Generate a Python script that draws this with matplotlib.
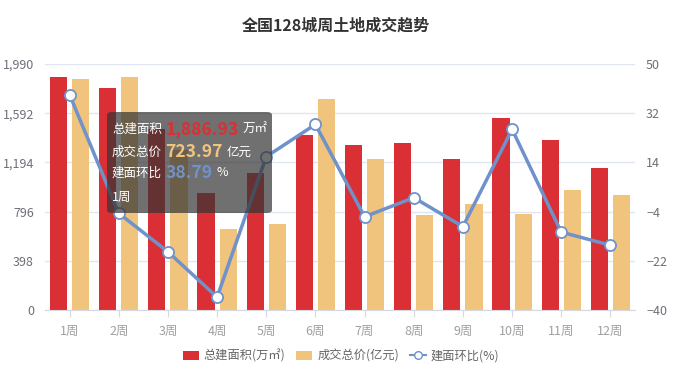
import matplotlib
matplotlib.use("Agg")
import matplotlib.pyplot as plt
from matplotlib.patches import Patch, FancyBboxPatch
from matplotlib.lines import Line2D
import numpy as np

plt.rcParams['font.family'] = ['Noto Sans CJK SC', 'DejaVu Sans']

weeks = ["1周", "2周", "3周", "4周", "5周", "6周", "7周", "8周", "9周", "10周", "11周", "12周"]
area = [1886.93, 1793, 1462, 949, 1106, 1416, 1335, 1353, 1224, 1551, 1373, 1151]
price = [1866, 1882, 1298, 653, 696, 1704, 1219, 771, 855, 777, 971, 928]
mom = [38.79, -4.6, -18.7, -35.3, 16.1, 27.9, -5.9, 1.1, -9.5, 26.1, -11.5, -16.3]
left_ticks = [0, 398, 796, 1194, 1592, 1990]
right_ticks = [-40, -22, -4, 14, 32, 50]

tip_week = "1周"
tip_area = 1886.93
tip_price = 723.97
tip_mom = 38.79

RED = "#DA3035"
YEL = "#F0C47D"
BLUE = "#6F92CB"
AXC = "#6E7079"
GRID = "#E0E6F1"

W, H = 682, 382
fig = plt.figure(figsize=(W / 100, H / 100), dpi=100)
ax = fig.add_axes([45 / W, 1 - 310 / H, 590 / W, 246 / H])
ax2 = ax.twinx()

x = np.arange(len(weeks))
bw = 0.35
ax.bar(x - 0.225, area, width=bw, color=RED, zorder=2)
ax.bar(x + 0.225, price, width=bw, color=YEL, zorder=2)
ax.set_xlim(-0.5, len(weeks) - 0.5)
ax.set_ylim(0, 1990)
ax.set_yticks(left_ticks)
ax.set_yticklabels([f"{v:,}" for v in left_ticks])
ax.set_xticks(x)
ax.set_xticklabels(weeks)
ax.grid(axis='y', color=GRID, linewidth=1, zorder=0)
ax.set_axisbelow(True)

ax2.plot(x, mom, color=BLUE, linewidth=2.5, marker='o', markersize=8,
         markerfacecolor='white', markeredgecolor=BLUE, markeredgewidth=1.3, zorder=5)
ax2.set_ylim(-40, 50)
ax2.set_yticks(right_ticks)

for a in (ax, ax2):
    for s in a.spines.values():
        s.set_visible(False)
ax.spines['bottom'].set_visible(True)
ax.spines['bottom'].set_color("#D5D8DF")
ax.tick_params(axis='x', length=5, color="#D5D8DF", labelsize=9, pad=6)
ax.tick_params(axis='y', length=0, labelcolor=AXC, labelsize=9, pad=8)
ax2.tick_params(axis='y', length=0, labelcolor=AXC, labelsize=9, pad=8)
for lab in ax.get_xticklabels():
    lab.set_color("#A0A0A0")

fig.text(336 / W, 1 - 26 / H, "全国128城周土地成交趋势", ha='center', va='center',
         fontsize=11.5, fontweight='bold', color="#333333")

handles = [Patch(facecolor=RED, edgecolor='none', label="总建面积(万㎡)"),
           Patch(facecolor=YEL, edgecolor='none', label="成交总价(亿元)"),
           Line2D([0], [0], color=BLUE, linewidth=1.5, marker='o', markersize=5.5,
                  markerfacecolor='white', markeredgecolor=BLUE, label="建面环比(%)")]
leg = fig.legend(handles=handles, loc='center', bbox_to_anchor=(0.5, 1 - 356 / H), ncol=3,
                 frameon=False, fontsize=8.8, handlelength=1.3, handleheight=0.7,
                 handletextpad=0.4, columnspacing=0.9)
for t in leg.get_texts():
    t.set_color("#666666")

# tooltip overlay
def fx(px):
    return px / W

def fy(py):
    return 1 - py / H

box = FancyBboxPatch((fx(107), fy(213)), fx(272) - fx(107), fy(112) - fy(213),
                     boxstyle="round,pad=0,rounding_size=0.008",
                     transform=fig.transFigure, facecolor=(0.2, 0.2, 0.2, 0.7),
                     edgecolor='none', zorder=20)
fig.patches.append(box)

rows = [
    ("总建面积", f"{tip_area:,.2f}", RED, "万㎡", 129),
    ("成交总价", f"{tip_price:,.2f}", YEL, "亿元", 152),
    ("建面环比", f"{tip_mom:.2f}", BLUE, "%", 173),
]
for lab, val, col, unit, py in rows:
    t1 = fig.text(fx(112), fy(py), lab, ha='left', va='center', color='white',
                  fontsize=9, zorder=21)
    t2 = fig.add_artist(matplotlib.text.Annotation(
        val, xy=(1, 0.5), xycoords=t1, xytext=(2.5, 0), textcoords='offset points',
        ha='left', va='center', color=col, fontsize=12.6, fontweight='bold', zorder=21))
    fig.add_artist(matplotlib.text.Annotation(
        unit, xy=(1, 0.5), xycoords=t2, xytext=(3, 0), textcoords='offset points',
        ha='left', va='center', color='white', fontsize=9, zorder=21))
fig.text(fx(112), fy(197), tip_week, ha='left', va='center', color='white',
         fontsize=9, zorder=21)

fig.savefig("out.png", dpi=100)
